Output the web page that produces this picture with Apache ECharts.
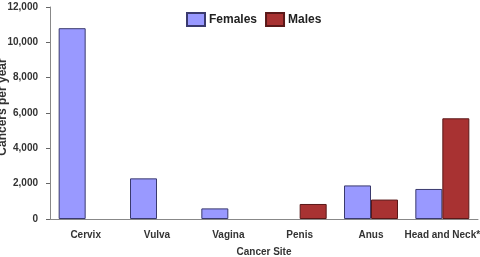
<!DOCTYPE html>
<html><head><meta charset="utf-8">
<script src="https://cdn.jsdelivr.net/npm/echarts@6/dist/echarts.min.js"></script>
<style>html,body{margin:0;padding:0;background:#fff}#c{width:480px;height:257px}</style>
</head><body><div id="c"></div>
<script>
const categories = ['Cervix', 'Vulva', 'Vagina', 'Penis', 'Anus', 'Head and Neck*'];
const females = [10800, 2300, 600, null, 1900, 1700];
const males = [null, null, null, 850, 1100, 5700];
const yTicks = [0, 2000, 4000, 6000, 8000, 10000, 12000];

const chart = echarts.init(document.getElementById('c'), null, {renderer: 'canvas'});
const font = 'Arial, "Liberation Sans", sans-serif';
chart.setOption({
  animation: false,
  backgroundColor: '#fff',
  textStyle: {fontFamily: font},
  legend: {
    top: 7, left: 181, icon: 'rect',
    itemWidth: 18, itemHeight: 13, itemGap: 8,
    textStyle: {fontSize: 12, fontWeight: 'bold', color: '#222', fontFamily: font, padding: [0, 0, 0, -1]},
    data: ['Females', 'Males']
  },
  grid: {left: 50, right: 2, top: 7, bottom: 38, containLabel: false, outerBoundsMode: 'none'},
  xAxis: {
    type: 'category', data: categories,
    name: 'Cancer Site', nameLocation: 'middle', nameGap: 28, nameMoveOverlap: false,
    nameTextStyle: {fontSize: 10, fontWeight: 'bold', color: '#333', fontFamily: font},
    axisLine: {lineStyle: {color: '#888', width: 1}},
    axisTick: {alignWithLabel: true, length: 4, lineStyle: {color: '#666'}},
    axisLabel: {interval: 0, fontSize: 10, fontWeight: 'bold', color: '#333', margin: 11, fontFamily: font}
  },
  yAxis: {
    type: 'value', min: yTicks[0], max: yTicks[yTicks.length - 1], interval: 2000,
    name: 'Cancers per year', nameLocation: 'middle', nameGap: 41, nameMoveOverlap: false,
    nameTextStyle: {fontSize: 12, fontWeight: 'bold', color: '#333', fontFamily: font, padding: [0, 0, 0, 12]},
    axisLine: {show: true, lineStyle: {color: '#888', width: 1}},
    axisTick: {show: true, length: 4, lineStyle: {color: '#666'}},
    splitLine: {show: false},
    axisLabel: {fontSize: 10, fontWeight: 'bold', color: '#333', margin: 12, fontFamily: font,
      formatter: v => v.toLocaleString('en-US')}
  },
  series: [
    {name: 'Females', type: 'bar', data: females, barWidth: 27, barGap: '0%',
      itemStyle: {color: '#9999ff', borderColor: '#3a3a6e', borderWidth: 1}},
    {name: 'Males', type: 'bar', data: males, barWidth: 27, barGap: '0%',
      itemStyle: {color: '#a83232', borderColor: '#5a1818', borderWidth: 1}}
  ]
});
</script></body></html>
